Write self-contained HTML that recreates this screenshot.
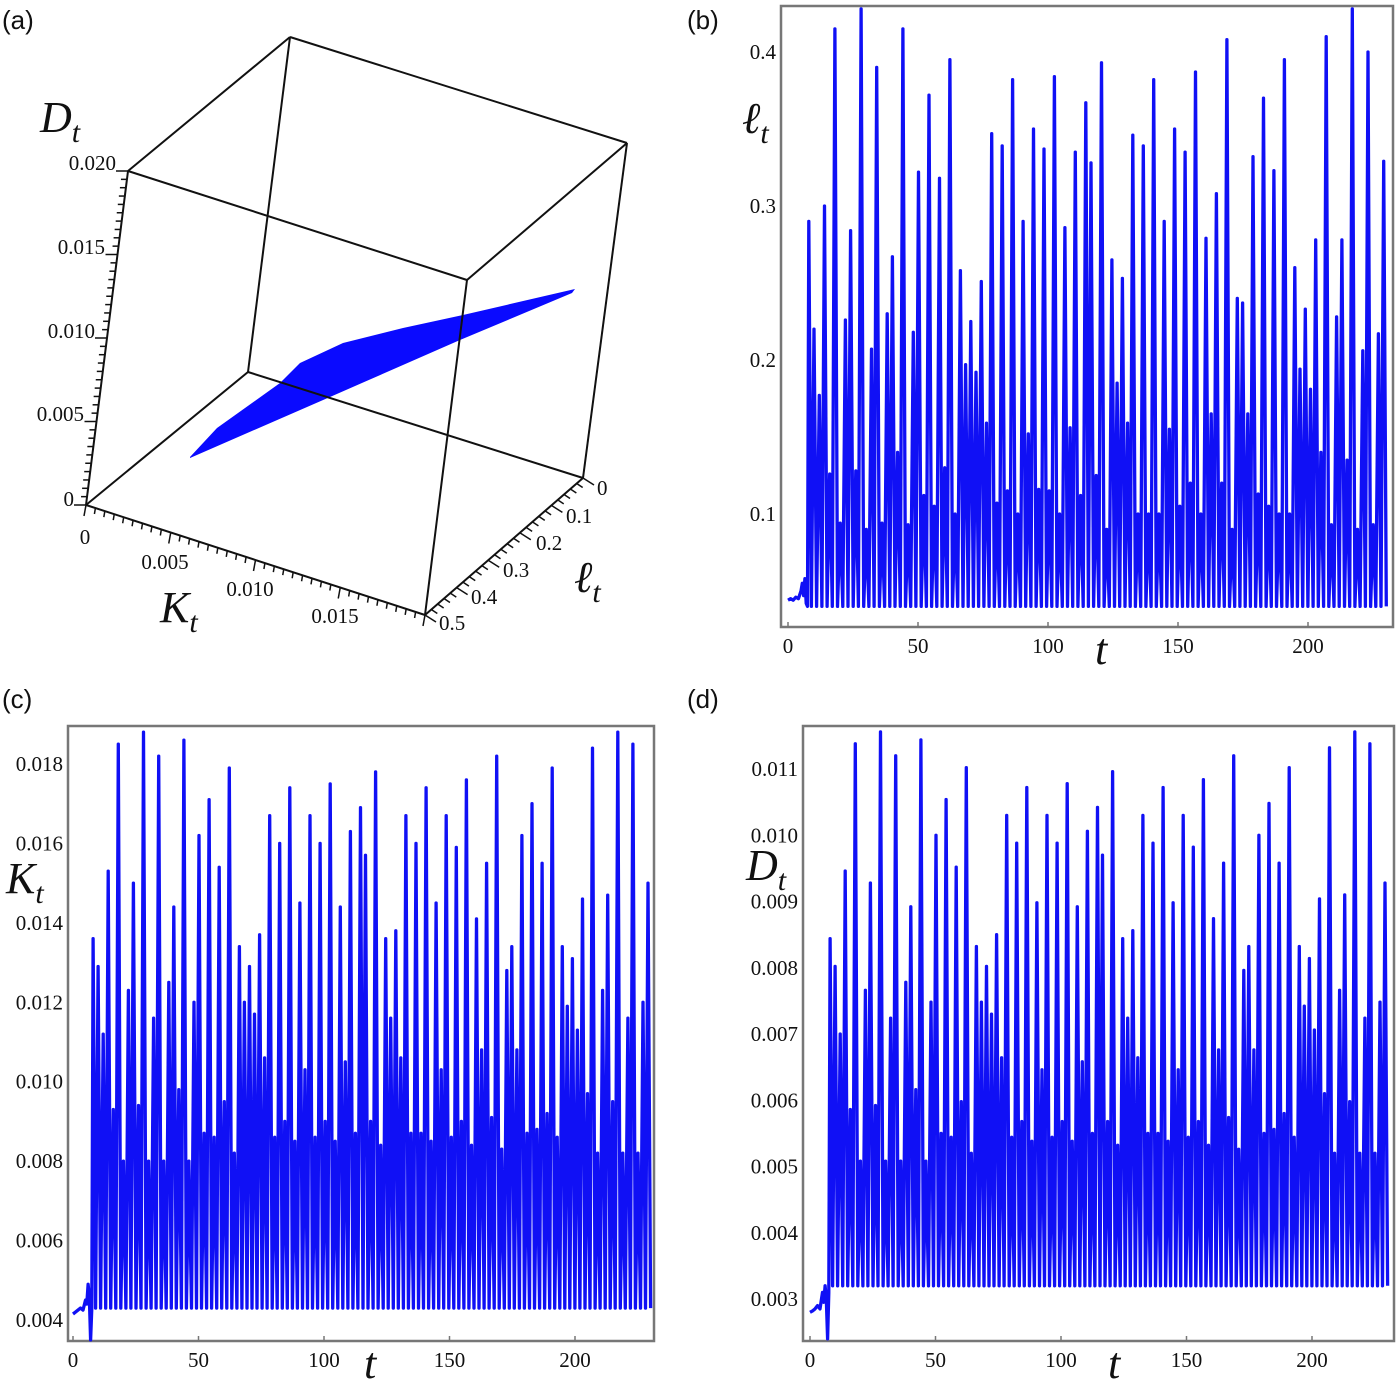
<!DOCTYPE html>
<html><head><meta charset="utf-8">
<style>
html,body{margin:0;padding:0;background:#fff;}
svg{display:block;}
text{font-family:"Liberation Serif",serif;fill:#111;}
.pl{font-family:"Liberation Sans",sans-serif;font-size:26px;}
.tk{font-size:21px;}
.ti{font-style:italic;font-size:44px;}
.sub{font-style:italic;font-size:30px;}
</style></head>
<body>
<svg id="fig" width="1400" height="1389" viewBox="0 0 1400 1389" xmlns="http://www.w3.org/2000/svg">
<text class="pl" x="2" y="29">(a)</text>
<text class="pl" x="687" y="29">(b)</text>
<text class="pl" x="2" y="708">(c)</text>
<text class="pl" x="687" y="708">(d)</text>

<g id="pa">
  <polygon fill="#0a0aff" points="190,457 217,428 280,383 300,363 343,343 403,328 463,315 575,289 572,293 460,340 330,397 190,458"/>
  <g stroke="#111" stroke-width="2" fill="none">
    <line x1="128" y1="171" x2="290" y2="37"/>
    <line x1="290" y1="37" x2="627" y2="143"/>
    <line x1="627" y1="143" x2="467" y2="280"/>
    <line x1="467" y1="280" x2="128" y2="171"/>
    <line x1="128" y1="171" x2="86" y2="505"/>
    <line x1="290" y1="37" x2="248" y2="372"/>
    <line x1="627" y1="143" x2="583" y2="478"/>
    <line x1="467" y1="280" x2="425" y2="615"/>
    <line x1="86" y1="505" x2="248" y2="372"/>
    <line x1="248" y1="372" x2="583" y2="478"/>
    <line x1="583" y1="478" x2="425" y2="615"/>
    <line x1="425" y1="615" x2="86" y2="505"/>
  </g>
  <g id="aticks" stroke="#111" stroke-width="1.5"></g>
  <g class="tk" text-anchor="end">
    <text x="116" y="170">0.020</text><text x="105" y="254">0.015</text><text x="95" y="338">0.010</text><text x="84" y="421">0.005</text><text x="74" y="506">0</text>
  </g>
  <g class="tk" text-anchor="middle">
    <text x="85" y="544">0</text><text x="165" y="569">0.005</text><text x="250" y="596">0.010</text><text x="335" y="623">0.015</text>
  </g>
  <g class="tk">
    <text x="597" y="495">0</text><text x="566" y="523">0.1</text><text x="536" y="550">0.2</text><text x="503" y="577">0.3</text><text x="471" y="604">0.4</text><text x="439" y="630">0.5</text>
  </g>
  <text class="ti" x="40" y="132">D<tspan class="sub" dy="10">t</tspan></text>
  <text class="ti" x="160" y="622">K<tspan class="sub" dy="10">t</tspan></text>
  <text class="ti" x="574" y="592">ℓ<tspan class="sub" dy="10">t</tspan></text>
</g>
<g id="pb"></g>
<g id="pc"></g>
<g id="pd"></g>
</svg>
<script>
// ---- data ----
const cycleStart = 8.0;
const cyclePeriod = 2.01;
const peaksL = [0.29,0.22,0.177,0.30,0.126,0.415,0.094,0.226,0.284,0.128,0.428,0.09,0.207,0.39,0.094,0.23,0.267,0.14,0.415,0.093,0.218,0.322,0.112,0.372,0.105,0.318,0.13,0.395,0.1,0.258,0.197,0.225,0.192,0.251,0.159,0.347,0.107,0.339,0.115,0.382,0.1,0.29,0.152,0.35,0.116,0.337,0.115,0.384,0.1,0.286,0.156,0.335,0.112,0.367,
0.328,0.125,0.393,0.09,0.265,0.185,0.253,0.159,0.346,0.1,0.339,0.1,0.382,0.1,0.29,0.155,0.35,0.105,0.335,0.12,0.387,0.1,0.279,0.165,0.308,0.12,0.408,0.09,0.24,0.237,0.165,0.332,0.113,0.37,0.105,0.323,0.1,0.395,0.1,0.26,0.194,0.233,0.181,0.278,0.14,0.41,0.093,0.228,0.278,0.135,0.428,0.09,0.206,0.4,0.093,0.217,0.329];
const peaksK = [13.6,12.9,11.2,15.3,9.3,18.5,8.0,12.3,15.0,9.4,18.8,8.0,11.6,18.2,8.0,12.5,14.4,9.8,18.6,8.0,12.0,16.2,8.7,17.1,8.6,15.4,9.5,17.9,8.2,13.4,12.0,12.9,11.7,13.7,10.6,16.7,8.6,16.0,9.0,17.4,8.5,14.5,10.3,16.7,8.6,16.0,9.0,17.5,8.5,14.4,10.5,16.3,8.7,16.9,
15.7,9.0,17.8,8.4,13.6,11.6,13.8,10.6,16.7,8.7,16.0,8.7,17.4,8.5,14.5,10.3,16.7,8.6,15.9,9.0,17.6,8.4,14.1,10.8,15.5,9.1,18.2,8.3,12.8,13.4,10.8,16.2,8.7,17.0,8.8,15.5,9.2,17.9,8.6,13.4,11.9,13.1,11.3,14.6,9.7,18.4,8.2,12.3,14.7,9.5,18.8,8.2,11.6,18.5,8.2,12.0,15.0];
const peaksD = [8.44,8.02,7.0,9.46,5.86,11.38,5.08,7.66,9.28,5.92,11.56,5.08,7.24,11.2,5.08,7.78,8.92,6.16,11.44,5.08,7.48,10.0,5.5,10.54,5.44,9.52,5.98,11.02,5.2,8.32,7.48,8.02,7.3,8.5,6.64,10.3,5.44,9.88,5.68,10.72,5.38,8.98,6.46,10.3,5.44,9.88,5.68,10.78,5.38,8.92,6.58,10.06,5.5,10.42,
9.7,5.68,10.96,5.32,8.44,7.24,8.56,6.64,10.3,5.5,9.88,5.5,10.72,5.38,8.98,6.46,10.3,5.44,9.82,5.68,10.84,5.32,8.74,6.76,9.58,5.74,11.2,5.26,7.96,8.32,6.76,10.0,5.5,10.48,5.56,9.58,5.8,11.02,5.44,8.32,7.42,8.14,7.06,9.04,6.1,11.32,5.2,7.66,9.1,5.98,11.56,5.2,7.24,11.38,5.2,7.48,9.28];
const troughL = 0.040, troughK = 4.3, troughD = 3.2;
const initT = [0,1,2,3,4,5,5.5,6,6.5,7,7.5];
const initL = [0.044,0.045,0.044,0.046,0.045,0.05,0.055,0.047,0.058,0.042,0.04];
const initK = [4.15,4.2,4.25,4.3,4.25,4.5,4.4,4.9,4.6,3.5,4.3];
const initD = [2.8,2.82,2.85,2.9,2.85,3.1,2.95,3.2,3.0,2.4,3.1];
const xTicks = [0,50,100,150,200];
const yTicksL = [0.1,0.2,0.3,0.4];
const yTicksK = [0.004,0.006,0.008,0.010,0.012,0.014,0.016,0.018];
const yTicksD = [0.003,0.004,0.005,0.006,0.007,0.008,0.009,0.010,0.011];

const NS = "http://www.w3.org/2000/svg";
function mk(tag, attrs, parent){const e=document.createElementNS(NS,tag);for(const k in attrs)e.setAttribute(k,attrs[k]);parent.appendChild(e);return e;}

function panel(g, cfg){
  const xs = t => cfg.x0 + t*cfg.px;
  const ys = v => cfg.y0 - (v - cfg.v0)*cfg.py;
  const fr = mk('rect',{x:cfg.fx,y:cfg.fy,width:cfg.fw,height:cfg.fh,fill:'none',stroke:'#777','stroke-width':2.5},g);
  
  
  let d = '';
  cfg.initT.forEach((t,i)=>{d += (i?'L':'M')+xs(t).toFixed(1)+' '+ys(cfg.init[i]*cfg.scale).toFixed(1);});
  cfg.peaks.forEach((p,i)=>{
    const t = cycleStart + i*cyclePeriod;
    d += 'L'+xs(t).toFixed(1)+' '+ys(p*cfg.scale).toFixed(1);
    d += 'L'+xs(t+cyclePeriod/2).toFixed(1)+' '+ys(cfg.trough*cfg.scale).toFixed(1);
  });
  const ln = mk('path',{d:d,fill:'none',stroke:'#1010f5','stroke-width':3.3,'stroke-linejoin':'round'},g);
  
  
  xTicks.forEach(v=>{
    const t = mk('text',{x:xs(v),y:cfg.fy+cfg.fh+26,'text-anchor':'middle','class':'tk'},g);
    t.textContent = v;
    
    
    const l = mk('line',{x1:xs(v),x2:xs(v),y1:cfg.fy+cfg.fh,y2:cfg.fy+cfg.fh-5,stroke:'#777','stroke-width':1.5},g);
    
    
  });
  cfg.yticks.forEach(v=>{
    const t = mk('text',{x:cfg.fx-5,y:ys(v)+7,'text-anchor':'end','class':'tk'},g);
    t.textContent = v.toFixed(cfg.dec);
    
    
  });
  const xt = mk('text',{x:cfg.tx,y:cfg.fy+cfg.fh+37,'class':'ti'},g);
  xt.textContent = 't';
  
  
  const yt = mk('text',{x:cfg.yx,y:cfg.yy,'class':'ti'},g);
  yt.innerHTML = cfg.ylab+'<tspan class="sub" dy="10">t</tspan>';
  
  
}

panel(document.getElementById('pb'),{fx:781,fy:6,fw:612,fh:621,x0:788,px:2.6,y0:514,v0:0.1,py:1540,
  peaks:peaksL,trough:troughL,init:initL,initT:initT,scale:1,yticks:yTicksL,dec:1,tx:1095,yx:742,yy:133,ylab:'ℓ'});
panel(document.getElementById('pc'),{fx:68,fy:726,fw:586,fh:615,x0:73,px:2.51,y0:1320,v0:0.004,py:39714,
  peaks:peaksK,trough:troughK,init:initK,initT:initT,scale:0.001,yticks:yTicksK,dec:3,tx:364,yx:6,yy:893,ylab:'K'});
panel(document.getElementById('pd'),{fx:803,fy:726,fw:591,fh:615,x0:810,px:2.51,y0:1299,v0:0.003,py:66250,
  peaks:peaksD,trough:troughD,init:initD,initT:initT,scale:0.001,yticks:yTicksD,dec:3,tx:1108,yx:746,yy:880,ylab:'D'});

// 3D axis tick marks
const ag = document.getElementById('aticks');
function tickLine(ax,ay,bx,by,n,major,dx,dy,dxM,dyM){
  for(let i=0;i<=n;i++){
    const x=ax+(bx-ax)*i/n, y=ay+(by-ay)*i/n;
    const m = i%major===0;
    const l = mk('line',{x1:x,y1:y,x2:x+(m?dxM:dx),y2:y+(m?dyM:dy)},ag);
    
    
  }
}
tickLine(86,505,128,171,40,10,-6,0,-12,0);
tickLine(86,505,425,615,36,9,-1,6,-2,11);
tickLine(425,615,583,478,25,5,6,4,11,7);
</script>
</body></html>
